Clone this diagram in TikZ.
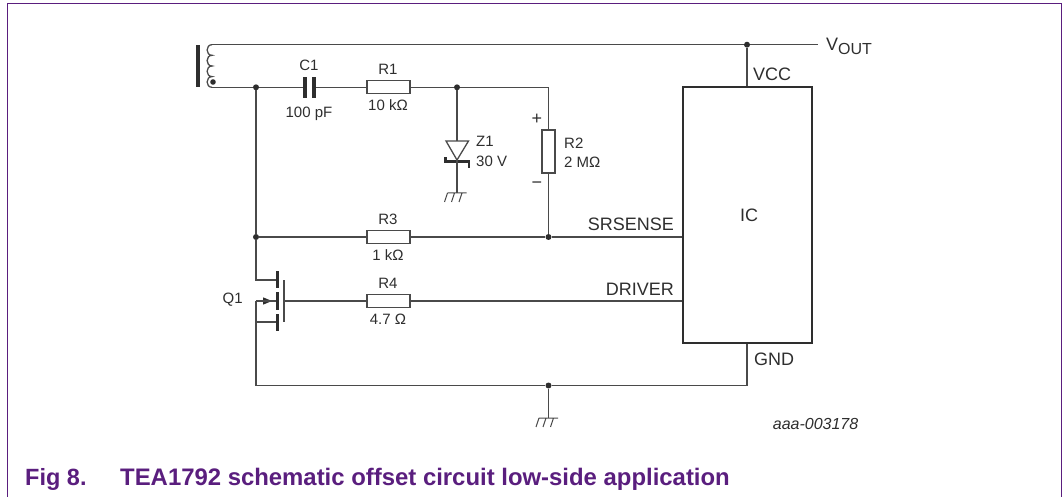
\documentclass[tikz,border=0pt]{standalone}
\usepackage{fontspec}
\setmainfont{Liberation Sans}
\definecolor{wirecol}{HTML}{4A4A4A}
\definecolor{inkcol}{HTML}{2E2E2E}
\definecolor{nxppurple}{HTML}{5A1E7E}
\tikzset{
  wire/.style={draw=wirecol,line width=1.3pt,line join=miter},
  dotj/.style={circle,fill=inkcol,inner sep=0pt,minimum size=6pt},
  resbox/.style={rectangle,draw=wirecol,fill=white,line width=1.2pt,inner sep=0pt,minimum width=43pt,minimum height=13pt},
  resboxv/.style={rectangle,draw=wirecol,fill=white,line width=1.2pt,inner sep=0pt,minimum width=13pt,minimum height=43pt},
  plate/.style={rectangle,fill=inkcol,inner sep=0pt,minimum width=3.4pt,minimum height=21pt},
  chan/.style={rectangle,fill=inkcol,inner sep=0pt,minimum width=2.8pt},
  lab/.style={inner sep=0pt,text=inkcol,font=\fontsize{15}{18}\selectfont},
  pinlab/.style={inner sep=0pt,text=inkcol,font=\fontsize{18}{21}\selectfont},
  gnd/.pic={
    \draw[wire,line width=1pt] (-9.5,0) -- (9.5,0)
      (-9.5,0) -- (-12.5,9) (-2.5,0) -- (-5.5,9) (5,0) -- (2,9);
  }
}
\begin{document}
\begin{tikzpicture}[x=1pt,y=-1pt]
\useasboundingbox (0,0) rectangle (1063,497);
% frame
\draw[nxppurple,line width=1.7pt] (7.5,497) -- (7.5,3.5) -- (1061.5,3.5) -- (1061.5,497);
% transformer
\fill[inkcol] (196.3,45) rectangle (200.2,87.5);
\node[circle,fill=inkcol,inner sep=0pt,minimum size=5.6pt] (tdot) at (213,82) {};
\coordinate (ctop) at (212,44.7);
\coordinate (cbot) at (212,87.3);
\draw[wire] (ctop) .. controls (205.5,44.7) and (205.5,55.3) .. (212,55.3)
  .. controls (205.5,55.3) and (205.5,66) .. (212,66)
  .. controls (205.5,66) and (205.5,76.6) .. (212,76.6)
  .. controls (205.5,76.6) and (205.5,87.3) .. (cbot);
% junctions
\node[dotj] (j1) at (256,87.3) {};
\node[dotj] (j2) at (457,87.3) {};
\node[dotj] (j3) at (548.5,237) {};
\node[dotj] (j4) at (256,237) {};
\node[dotj] (j5) at (548.5,385.5) {};
\node[dotj] (j6) at (747,44.7) {};
% IC
\node[rectangle,draw=inkcol,line width=2.6pt,inner sep=0pt,minimum width=129pt,minimum height=256pt] (ic) at (747.5,215) {};
\node[pinlab,anchor=base] (iclab) at (749,222) {IC};
\node[pinlab,anchor=base west] (vcc) at (753,81) {VCC};
\node[pinlab,anchor=base east] (srs) at (674,231) {SRSENSE};
\node[pinlab,anchor=base east] (drv) at (674,295) {DRIVER};
\node[pinlab,anchor=base west] (gndl) at (754,365) {GND};
% capacitor
\node[plate] (c1a) at (305,87.3) {};
\node[plate] (c1b) at (314,87.3) {};
\node[lab,anchor=base] (c1l) at (309,70.7) {C1};
\node[lab,anchor=base] (c1v) at (309,118) {100 pF};
% resistors
\node[resbox] (r1) at (388.5,87.3) {};
\node[lab,anchor=base] (r1l) at (388,75) {R1};
\node[lab,anchor=base] (r1v) at (388,110.7) {10 kΩ};
\node[resboxv] (r2) at (548.5,151.5) {};
\node[lab,anchor=base west] (r2l) at (564,149) {R2};
\node[lab,anchor=base west] (r2v) at (564,168) {2 MΩ};
\node[pinlab,anchor=base] (rp) at (537,125) {+};
\node[pinlab,anchor=base] (rm) at (537,189) {−};
\node[resbox] (r3) at (388.5,237) {};
\node[lab,anchor=base] (r3l) at (388,225) {R3};
\node[lab,anchor=base] (r3v) at (388,261) {1 kΩ};
\node[resbox] (r4) at (388.5,301) {};
\node[lab,anchor=base] (r4l) at (388,288) {R4};
\node[lab,anchor=base] (r4v) at (388,324) {4.7 Ω};
% zener
\coordinate (zt) at (457,141);
\coordinate (zk) at (457,160);
\coordinate (zg) at (457,193);
\draw[wire,line join=miter] (446,141) -- (468.5,141) -- (zk) -- cycle;
\draw[inkcol,line width=2.4pt] (445.5,157.5) -- (445.5,161.5) -- (468.7,161.5) -- (468.7,168.5);
\node[lab,anchor=base west] (z1l) at (476,147) {Z1};
\node[lab,anchor=base west] (z1v) at (476,167) {30 V};
\pic at (zg) {gnd};
% mosfet
\node[rectangle,fill=wirecol,inner sep=0pt,minimum width=1.8pt,minimum height=42pt] (gate) at (284,301) {};
\node[chan,minimum height=17pt] (cha) at (277.3,279.5) {};
\node[chan,minimum height=18pt] (chb) at (277.3,301) {};
\node[chan,minimum height=17pt] (chc) at (277.3,322.5) {};
\node[lab,anchor=base west] (q1) at (222.5,303) {Q1};
\coordinate (qd) at (256,280);
\coordinate (qs) at (256,301);
\coordinate (qb) at (256,322);
\fill[inkcol] (263,297.3) -- (272,301) -- (263,304.7) -- cycle;
% ground
\coordinate (gt) at (548.5,418);
\pic at (gt) {gnd};
% vout
\coordinate (vo) at (818,44.7);
\node[inner sep=0pt,anchor=base west,text=inkcol,font=\fontsize{18}{21}\selectfont] (vout) at (826,51) {V\raisebox{-4pt}{\fontsize{16}{18}\selectfont OUT}};
% wires
\draw[wire] (ctop) -- (j6) -- (vo);
\draw[wire] (j6) -- (j6 |- ic.north);
\draw[wire] (cbot) -- (j1) -- (c1a.west);
\draw[wire] (c1b.east) -- (r1.west);
\draw[wire] (r1.east) -- (j2) -- (j2 -| r2) -- (r2.north);
\draw[wire] (j2) -- (zt);
\draw[wire] (zk) -- (zg);
\draw[wire] (r2.south) -- (j3);
\draw[wire] (j1) -- (j4) -- (r3.west);
\draw[wire] (r3.east) -- (j3) -- (j3 -| ic.west);
\draw[wire] (j4) -- (qd) -- (qd -| cha.west);
\draw[wire] (qs) -- (qs -| chb.west);
\draw[wire] (qb) -- (qb -| chc.west);
\draw[wire] (gate.east |- r4) -- (r4.west);
\draw[wire] (r4.east) -- (r4 -| ic.west);
\draw[wire] (qs) -- (256,385.5) -- (j5) -- (j5 -| j6) -- (j6 |- ic.south);
\draw[wire] (j5) -- (gt);
% texts
\node[inner sep=0pt,anchor=base east,text=inkcol,font=\fontsize{16}{18}\selectfont\itshape] (code) at (858.5,429) {aaa-003178};
\node[inner sep=0pt,anchor=base west,text=nxppurple,font=\fontsize{23.5}{26}\selectfont\bfseries] (figno) at (25,485) {Fig 8.};
\node[inner sep=0pt,anchor=base west,text=nxppurple,font=\fontsize{23.9}{26}\selectfont\bfseries] (figt) at (120,485) {TEA1792 schematic offset circuit low-side application};
\end{tikzpicture}
\end{document}
